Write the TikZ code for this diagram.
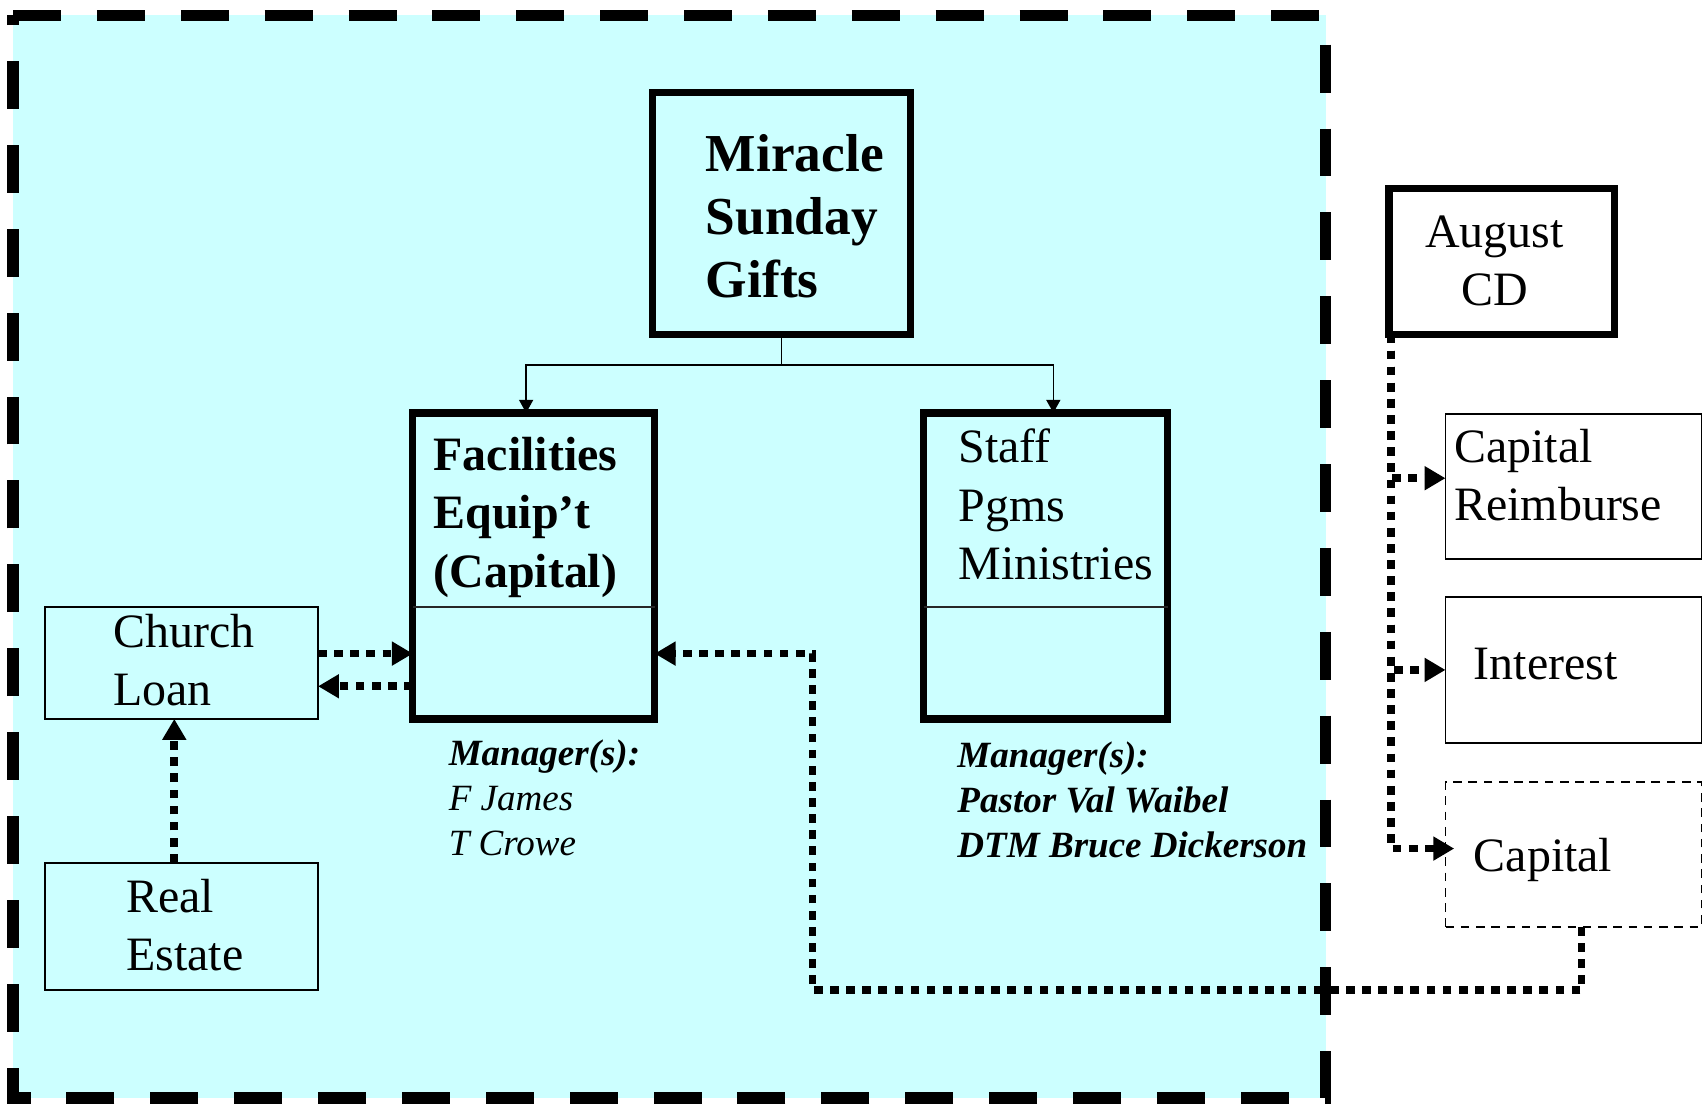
\documentclass[tikz,border=0pt]{standalone}
\usepackage{fontspec}
\setmainfont{Liberation Serif}
\usetikzlibrary{arrows.meta}
\definecolor{bgcyan}{RGB}{204,255,255}
\newcommand{\mylines}[1]{\begin{tabular}[t]{@{}l@{}}#1\end{tabular}}
\newcommand{\mylinesc}[1]{\begin{tabular}[t]{@{}c@{}}#1\end{tabular}}
\begin{document}
\begin{tikzpicture}[x=0.5pt,y=-0.5pt,
  thickbox/.style={draw,line width=3.35pt,inner sep=0pt,outer sep=0pt},
  thinbox/.style={draw,line width=0.9pt,inner sep=0pt,outer sep=0pt},
  dashbox/.style={thinbox,dash pattern=on 4pt off 3pt},
  frame/.style={line width=5.2pt,dash pattern=on 22pt off 16.5pt,fill=bgcyan},
  divider/.style={line width=0.8pt,draw=black!85},
  txt/.style={anchor=base west,inner sep=0pt,outer sep=0pt},
  txtc/.style={anchor=base,inner sep=0pt,outer sep=0pt},
  bigfont/.style={font=\fontsize{24.5}{29}\selectfont\bfseries},
  boxfont/.style={font=\fontsize{22}{26.75}\selectfont},
  mgrfont/.style={font=\fontsize{17}{20.75}\selectfont},
  treeline/.style={line width=0.65pt,-{Triangle[length=6pt,width=6.5pt]}},
  dotline/.style={line width=3.5pt,dash pattern=on 4pt off 3.4pt},
  dotarrow/.style={dotline,-{Triangle[length=9.6pt,width=10.5pt]}}
]
\useasboundingbox (0,0) rectangle (1568,1014);
% outer dashed frame
\draw[frame] (12,14) -- (1217,14) -- (1217,1008) -- (12,1008) -- cycle;

% boxes
\node[thickbox,minimum width=118.5pt,minimum height=111pt] (ms) at (717.5,196) {};
\node[thickbox,minimum width=111pt,minimum height=140.5pt] (fac) at (490,519.5) {};
\node[thickbox,minimum width=112pt,minimum height=140.5pt] (stf) at (960,519.5) {};
\node[thinbox,minimum width=125.5pt,minimum height=51.5pt] (cl) at (166.5,608.5) {};
\node[thinbox,minimum width=125.5pt,minimum height=58.5pt] (re) at (166.5,850.5) {};
\node[thickbox,minimum width=103.5pt,minimum height=67pt] (acd) at (1378.5,240) {};
\node[thinbox,minimum width=117.5pt,minimum height=66.5pt] (cr) at (1444.5,446.5) {};
\node[thinbox,minimum width=117.5pt,minimum height=67pt] (int) at (1444.5,615) {};
\node[dashbox,minimum width=117.5pt,minimum height=66.5pt] (capd) at (1444.5,784.5) {};

% dividers
\draw[divider] (fac.west |- 0,557) -- (fac.east |- 0,557);
\draw[divider] (stf.west |- 0,557) -- (stf.east |- 0,557);

% texts
\node[txt,bigfont] (mst) at (648,157.5) {\mylines{Miracle\\Sunday\\Gifts}};
\node[txt,font=\fontsize{22}{26.75}\selectfont\bfseries] (fact) at (398,432) {\mylines{Facilities\\Equip’t\\(Capital)}};
\node[txt,boxfont] (stft) at (880,425) {\mylines{Staff\\Pgms\\Ministries}};
\node[txt,mgrfont] (facm) at (412,702.5) {\mylines{\bfseries\itshape Manager(s):\\\itshape F James\\\itshape T Crowe}};
\node[txt,mgrfont] (stfm) at (879,704.5) {\mylines{\bfseries\itshape Manager(s):\\\bfseries\itshape Pastor Val Waibel\\\bfseries\itshape DTM Bruce Dickerson}};
\node[txt,boxfont] (clt) at (104,594) {\mylines{Church\\Loan}};
\node[txt,boxfont] (ret) at (116,837.5) {\mylines{Real\\Estate}};
\node[txtc,boxfont] (acdt) at (1372,227) {\mylinesc{August\\CD}};
\node[txt,boxfont] (crt) at (1335,424.5) {\mylines{Capital\\Reimburse}};
\node[txt,boxfont] (intt) at (1353,624) {Interest};
\node[txt,boxfont] (capt) at (1353,800) {Capital};

% tree connector
\coordinate (tj) at (717.5,335);
\draw[line width=0.65pt] (ms.south) -- (tj);
\draw[treeline] (tj) -| ([xshift=-3.5pt]fac.north);
\draw[treeline] (tj) -| ([xshift=3.5pt]stf.north);

% dotted connectors
\draw[dotarrow] (cl.east |- 0,600) -- (fac.west |- 0,600);
\draw[dotarrow] (fac.west |- 0,630) -- (cl.east |- 0,630);
\draw[dotarrow] ([xshift=-3.25pt]re.north) -- ([xshift=-3.25pt]cl.south);
\coordinate (c1) at (746,909);
\draw[dotarrow] ([xshift=3.75pt]capd.south) |- (c1) |- (fac.east |- 0,600);
\coordinate (av) at (1277,307);
\draw[dotarrow] (av) |- ([yshift=3.75pt]cr.west);
\draw[dotarrow] (av) |- (int.west);
\draw[dotarrow] (av) |- ([xshift=4pt,yshift=2.75pt]capd.west);
\end{tikzpicture}
\end{document}
